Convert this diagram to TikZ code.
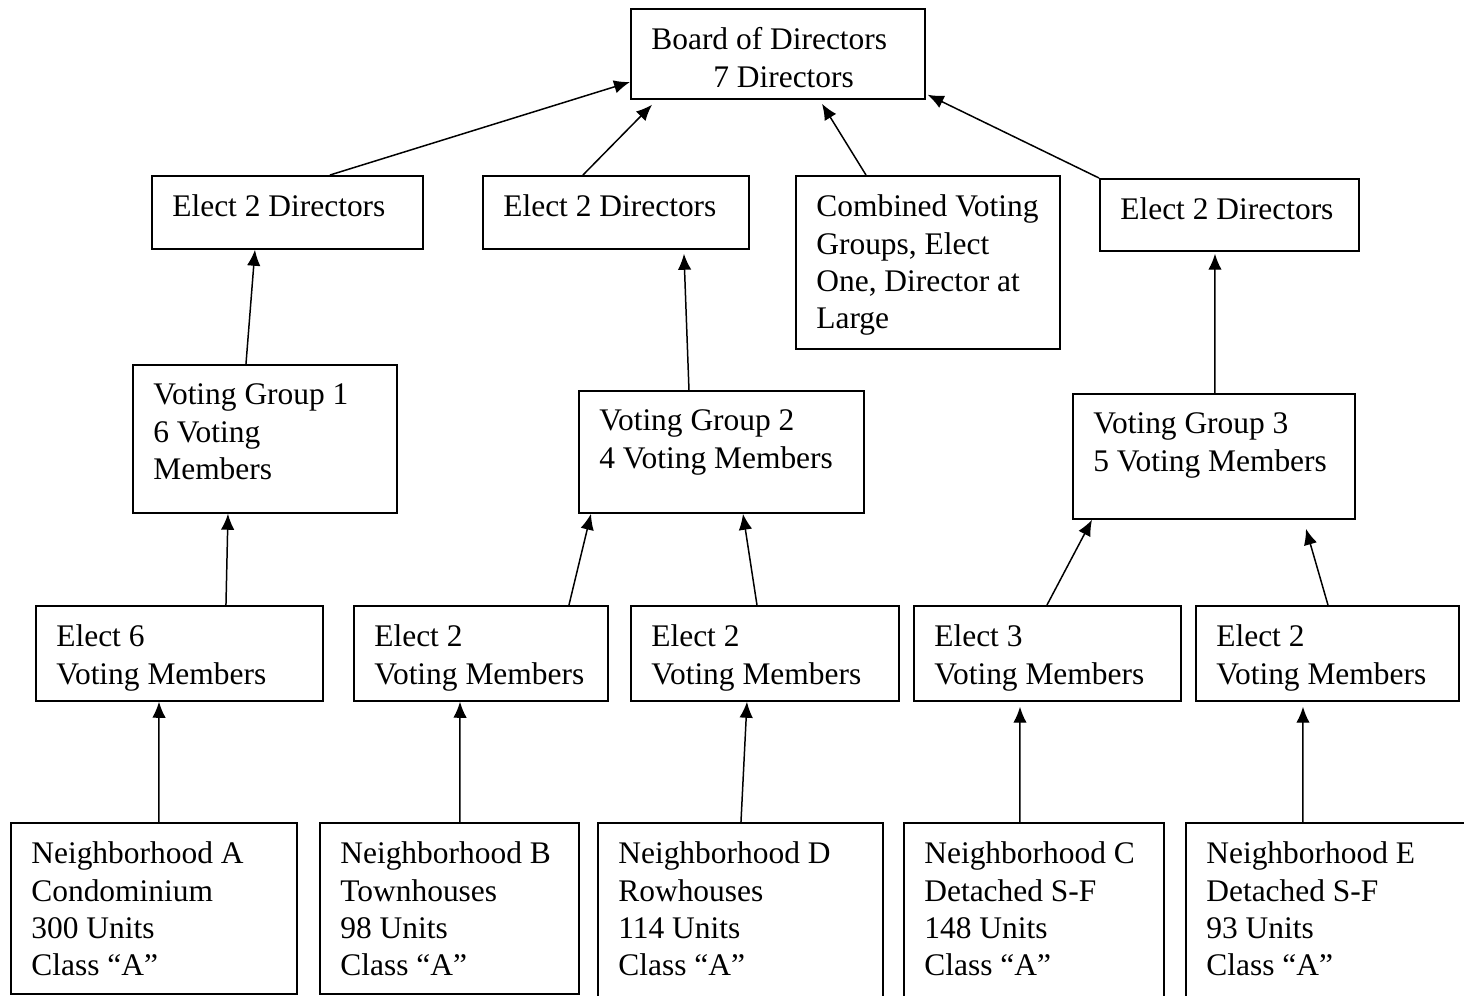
\documentclass[tikz,border=0pt]{standalone}
\usepackage{fontspec}
\setmainfont{Liberation Serif}
\usetikzlibrary{arrows.meta}

\tikzset{
  box/.style={draw, line width=1pt, anchor=north west, inner sep=0pt},
  boxtext/.style={anchor=north west, align=left, inner sep=0pt,
    xshift=0.42cm, yshift=-0.39cm, font=\fontsize{17.9}{21.3}\selectfont},
  up/.style={line width=0.85pt, -{Latex[length=0.32cm,width=0.27cm]}}
}

\begin{document}
\begin{tikzpicture}[x=0.02cm, y=-0.02cm]
    \useasboundingbox (0,0) rectangle (1464,995);
    \clip (0,0) rectangle (1464,995);

    \node[box, minimum width=5.88cm, minimum height=1.8cm,
      label={[boxtext]north west:Board of Directors\\\hspace*{1.24cm}7 Directors}] (board) at (630,8) {};

    \node[box, minimum width=5.42cm, minimum height=1.46cm,
      label={[boxtext]north west:Elect 2 Directors}] (dir1) at (151,175) {};
    \node[box, minimum width=5.32cm, minimum height=1.46cm,
      label={[boxtext]north west:Elect 2 Directors}] (dir2) at (482,175) {};
    \node[box, minimum width=5.28cm, minimum height=3.46cm,
      label={[boxtext]north west:Combined Voting\\Groups, Elect\\One, Director at\\Large}] (comb) at (795,175) {};
    \node[box, minimum width=5.18cm, minimum height=1.44cm,
      label={[boxtext]north west:Elect 2 Directors}] (dir3) at (1099,178) {};

    \node[box, minimum width=5.28cm, minimum height=2.96cm,
      label={[boxtext]north west:Voting Group 1\\6 Voting\\Members}] (grp1) at (132,364) {};
    \node[box, minimum width=5.70cm, minimum height=2.44cm,
      label={[boxtext]north west:Voting Group 2\\4 Voting Members}] (grp2) at (578,390) {};
    \node[box, minimum width=5.64cm, minimum height=2.50cm,
      label={[boxtext]north west:Voting Group 3\\5 Voting Members}] (grp3) at (1072,393) {};

    \node[box, minimum width=5.74cm, minimum height=1.9cm,
      label={[boxtext]north west:Elect 6\\Voting Members}] (elA) at (35,605) {};
    \node[box, minimum width=5.08cm, minimum height=1.9cm,
      label={[boxtext]north west:Elect 2\\Voting Members}] (elB) at (353,605) {};
    \node[box, minimum width=5.36cm, minimum height=1.9cm,
      label={[boxtext]north west:Elect 2\\Voting Members}] (elD) at (630,605) {};
    \node[box, minimum width=5.34cm, minimum height=1.9cm,
      label={[boxtext]north west:Elect 3\\Voting Members}] (elC) at (913,605) {};
    \node[box, minimum width=5.26cm, minimum height=1.9cm,
      label={[boxtext]north west:Elect 2\\Voting Members}] (elE) at (1195,605) {};

    \node[box, minimum width=5.72cm, minimum height=3.42cm,
      label={[boxtext]north west:Neighborhood A\\Condominium\\300 Units\\Class “A”}] (nbA) at (10,822) {};
    \node[box, minimum width=5.18cm, minimum height=3.42cm,
      label={[boxtext]north west:Neighborhood B\\Townhouses\\98 Units\\Class “A”}] (nbB) at (319,822) {};
    \node[box, minimum width=5.70cm, minimum height=3.6cm,
      label={[boxtext]north west:Neighborhood D\\Rowhouses\\114 Units\\Class “A”}] (nbD) at (597,822) {};
    \node[box, minimum width=5.20cm, minimum height=3.6cm,
      label={[boxtext]north west:Neighborhood C\\Detached S-F\\148 Units\\Class “A”}] (nbC) at (903,822) {};
    \node[box, minimum width=5.80cm, minimum height=3.6cm,
      label={[boxtext]north west:Neighborhood E\\Detached S-F\\93 Units\\Class “A”}] (nbE) at (1185,822) {};

    \draw[up] ([xshift=3.58cm]dir1.north west) -- ([yshift=-1.48cm]board.north west);
    \draw[up] ([xshift=2.02cm]dir2.north west) -- ([xshift=0.44cm,yshift=-0.1cm]board.south west);
    \draw[up] ([xshift=1.42cm]comb.north west) -- ([xshift=3.84cm,yshift=-0.08cm]board.south west);
    \draw[up] (dir3.north west) -- ([xshift=0.04cm,yshift=0.1cm]board.south east);

    \draw[up] ([xshift=2.28cm]grp1.north west) -- ([xshift=2.08cm]dir1.south west);
    \draw[up] ([xshift=2.22cm]grp2.north west) -- ([xshift=4.04cm,yshift=-0.08cm]dir2.south west);
    \draw[up] ([xshift=2.86cm]grp3.north west) -- ([xshift=2.32cm,yshift=-0.04cm]dir3.south west);

    \draw[up] ([xshift=3.82cm]elA.north west) -- ([xshift=1.92cm]grp1.south west);
    \draw[up] ([xshift=4.32cm]elB.north west) -- ([xshift=0.26cm]grp2.south west);
    \draw[up] ([xshift=2.54cm]elD.north west) -- ([xshift=3.3cm]grp2.south west);
    \draw[up] ([xshift=2.68cm]elC.north west) -- ([xshift=0.4cm]grp3.south west);
    \draw[up] ([xshift=2.66cm]elE.north west) -- ([xshift=4.68cm,yshift=-0.18cm]grp3.south west);

    \draw[up] ([xshift=2.98cm]nbA.north west) -- ([xshift=2.48cm]elA.south west);
    \draw[up] ([xshift=2.82cm]nbB.north west) -- ([xshift=2.14cm]elB.south west);
    \draw[up] ([xshift=2.88cm]nbD.north west) -- ([xshift=2.34cm]elD.south west);
    \draw[up] ([xshift=2.34cm]nbC.north west) -- ([xshift=2.14cm,yshift=-0.1cm]elC.south west);
    \draw[up] ([xshift=2.36cm]nbE.north west) -- ([xshift=2.16cm,yshift=-0.1cm]elE.south west);
\end{tikzpicture}
\end{document}
